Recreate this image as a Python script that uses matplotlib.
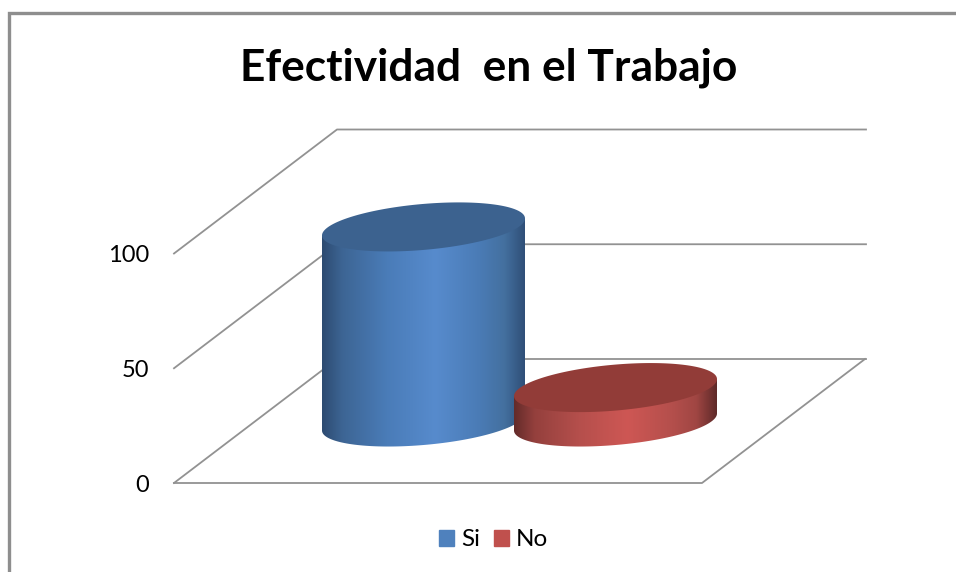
import numpy as np
import matplotlib
matplotlib.use("Agg")
import matplotlib.pyplot as plt
from matplotlib.colors import LinearSegmentedColormap
from matplotlib.patches import Patch, PathPatch
from matplotlib.path import Path

title = "Efectividad  en el Trabajo"
categories = ["Si", "No"]
values = [85, 15]
y_ticks = [0, 50, 100]

plt.rcParams['font.family'] = ['Lato', 'DejaVu Sans']
fig = plt.figure(figsize=(9.56, 5.72), dpi=100)
ax = fig.add_axes([0, 0, 1, 1])
ax.set_xlim(0, 956)
ax.set_ylim(572, 0)
ax.axis('off')

# projection of the 3D scene onto the picture
Y0, UNIT = 483.0, 2.295
DX, DY = 163.0, 124.0
FLOOR_W = 528.0
X0 = 174.0


def py(v):
    return Y0 - v * UNIT


GRID = '#929292'
# frame
ax.plot([956, 9, 9], [13, 13, 572], color='#8e8e8e', lw=2.4, solid_joinstyle='miter', zorder=1)

# walls and floor
for v in y_ticks:
    ax.plot([X0, X0 + DX, X0 + DX + FLOOR_W + 1], [py(v), py(v) - DY, py(v) - DY],
            color=GRID, lw=1.3, zorder=2)
    ax.text(149, py(v) + 2.5, str(v), ha='right', va='center', fontsize=17.0, color='black')
ax.plot([X0, X0 + FLOOR_W, X0 + FLOOR_W + DX], [Y0, Y0, Y0 - DY], color=GRID, lw=1.3, zorder=2)

# cylinders
A, B, SHEAR = 101.5, 23.0, 8.5
CX0, CSTEP, BASE = 423.5, 192.0, 422.0
styles = [
    dict(top='#3c628f', stops=['#2d4b71', '#3d6594', '#4a7cb8', '#578bcd', '#4a7bb5', '#44709f', '#2f4f78']),
    dict(top='#923c38', stops=['#642b2a', '#94403d', '#b54f4c', '#ce5754', '#b44f4c', '#a04643', '#5f2a29']),
]
POS = [0, 0.1, 0.32, 0.56, 0.78, 0.9, 1]
for i, (v, st) in enumerate(zip(values, styles)):
    cx = CX0 + i * CSTEP
    top = BASE - v * UNIT
    t = np.linspace(0, np.pi, 120)
    bx = cx + A * np.cos(t)
    by = BASE - SHEAR * np.cos(t) + B * np.sin(t)
    side = Path(np.column_stack([np.r_[cx + A, bx, cx - A, cx + A],
                                 np.r_[top - SHEAR, by, top + SHEAR, top - SHEAR]]))
    cmap = LinearSegmentedColormap.from_list('g', list(zip(POS, st['stops'])))
    z = 3 + i * 2
    im = ax.imshow(np.linspace(0, 1, 256)[None, :], cmap=cmap, aspect='auto',
                   extent=[cx - A, cx + A, BASE + 40, top - 40], zorder=z)
    clip = PathPatch(side, transform=ax.transData, fc='none', ec='none')
    ax.add_patch(clip)
    im.set_clip_path(clip)
    ta = np.linspace(0, 2 * np.pi, 240)
    ax.fill(cx + A * np.cos(ta), top - SHEAR * np.cos(ta) + B * np.sin(ta),
            color=st['top'], lw=0, zorder=z + 0.5)
ax.set_xlim(0, 956)
ax.set_ylim(572, 0)

ax.text(488.5, 67.5, title, ha='center', va='center', fontsize=31.9, fontweight='bold', color='black')

handles = [Patch(color='#4f81bd', label=categories[0]), Patch(color='#c0504d', label=categories[1])]
ax.legend(handles=handles, ncol=2, frameon=False, loc='center', bbox_to_anchor=(493.5, 540),
          bbox_transform=ax.transData, fontsize=17.5, handlelength=0.62, handleheight=0.62,
          handletextpad=0.3, columnspacing=0.55, borderpad=0, labelspacing=0)

fig.savefig('out.png', dpi=100, facecolor='white')
